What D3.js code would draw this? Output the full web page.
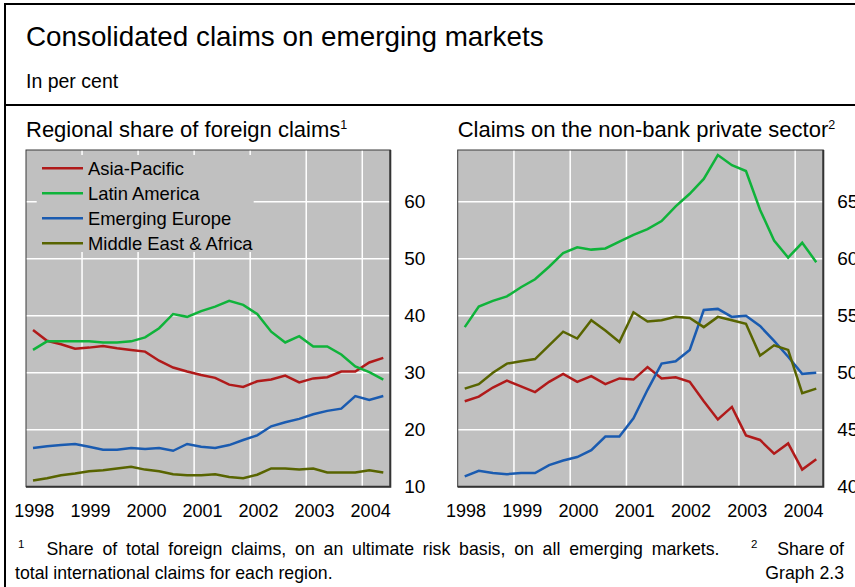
<!DOCTYPE html>
<html>
<head>
<meta charset="utf-8">
<script src="https://cdn.jsdelivr.net/npm/d3@7"></script>
<style>
  body { margin: 0; background: #fff; }
  svg { display: block; font-family: "Liberation Sans", Arial, sans-serif; }
  .axis path { display: none; }
  .axis text { fill: #000; font-family: "Liberation Sans", Arial, sans-serif; }
</style>
</head>
<body>
<div id="chart-area"></div>
<script>
// quarterly observations, 1998Q1 - 2004Q2
var quarters = ["1998Q1","1998Q2","1998Q3","1998Q4","1999Q1","1999Q2","1999Q3","1999Q4",
    "2000Q1","2000Q2","2000Q3","2000Q4","2001Q1","2001Q2","2001Q3","2001Q4",
    "2002Q1","2002Q2","2002Q3","2002Q4","2003Q1","2003Q2","2003Q3","2003Q4",
    "2004Q1","2004Q2"];

var regions = ["Asia-Pacific", "Latin America", "Emerging Europe", "Middle East & Africa"];
var regionColours = ["#b01a1a", "#0fb33a", "#1a5bb0", "#586400"];

var years = [1998, 1999, 2000, 2001, 2002, 2003, 2004];
var leftTicks = [10, 20, 30, 40, 50, 60];
var rightTicks = [40, 45, 50, 55, 60, 65];

// Regional share of foreign claims
var asiaShare   = [37.5,35.6,35.0,34.2,34.4,34.7,34.3,34.0,33.7,32.1,30.9,30.2,29.6,29.1,27.9,27.5,28.5,28.8,29.5,28.3,29.0,29.2,30.2,30.2,31.8,32.6];
var latamShare  = [34.0,35.5,35.5,35.5,35.5,35.3,35.3,35.5,36.2,37.8,40.3,39.8,40.8,41.6,42.6,41.9,40.3,37.2,35.3,36.4,34.6,34.6,33.2,31.1,30.1,28.8];
var europeShare = [16.8,17.1,17.3,17.5,17.0,16.5,16.5,16.8,16.6,16.8,16.3,17.5,17.0,16.8,17.3,18.2,19.0,20.6,21.3,21.9,22.7,23.3,23.7,25.9,25.2,25.9];
var meaShare    = [11.1,11.5,12.0,12.3,12.7,12.9,13.2,13.5,13.0,12.7,12.2,12.0,12.0,12.2,11.7,11.5,12.1,13.2,13.2,13.0,13.2,12.5,12.5,12.5,12.9,12.5];

// Claims on the non-bank private sector
var asiaNonBank   = [47.5,47.9,48.7,49.3,48.8,48.3,49.2,49.9,49.2,49.7,49.0,49.5,49.4,50.5,49.5,49.6,49.2,47.5,45.9,47.0,44.5,44.1,42.9,43.8,41.5,42.4];
var latamNonBank  = [54.0,55.8,56.3,56.7,57.5,58.2,59.3,60.5,61.0,60.8,60.9,61.5,62.1,62.6,63.3,64.6,65.7,67.0,69.1,68.2,67.7,64.3,61.6,60.1,61.4,59.7];
var europeNonBank = [40.9,41.4,41.2,41.1,41.2,41.2,41.9,42.3,42.6,43.2,44.4,44.4,46.0,48.5,50.8,51.0,52.0,55.5,55.6,54.9,55.0,54.1,52.8,51.4,49.9,50.0];
var meaNonBank    = [48.6,49.0,50.0,50.8,51.0,51.2,52.4,53.6,53.0,54.6,53.7,52.7,55.3,54.5,54.6,54.9,54.8,54.0,54.9,54.6,54.3,51.5,52.4,52.0,48.2,48.6];

var width = 855, height = 587;
var plotTop = 150, plotBottom = 486.7;

function quarterTime(q) {
    // middle of the quarter
    return +q.slice(0, 4) + (+q.slice(5) - 0.5) / 4;
}

var svg = d3.select("#chart-area").append("svg")
    .attr("width", width)
    .attr("height", height);

// outer frame
svg.append("line").attr("x1", 5).attr("x2", 5).attr("y1", 4).attr("y2", height)
    .attr("stroke", "#000").attr("stroke-width", 2);
svg.append("line").attr("x1", 4).attr("x2", width).attr("y1", 4).attr("y2", 4)
    .attr("stroke", "#000").attr("stroke-width", 2);
svg.append("line").attr("x1", 4).attr("x2", width).attr("y1", 105).attr("y2", 105)
    .attr("stroke", "#000").attr("stroke-width", 2);

svg.append("text")
    .attr("x", 26).attr("y", 46)
    .attr("font-size", "27.8px")
    .text("Consolidated claims on emerging markets");

svg.append("text")
    .attr("x", 26).attr("y", 88)
    .attr("font-size", "19.5px")
    .text("In per cent");

function drawPanel(opts) {
    var x = d3.scaleLinear()
        .domain([1998, 2004.5])
        .range([opts.left, opts.right]);

    var y = d3.scaleLinear()
        .domain([opts.ticks[0], opts.domainTop])
        .range([plotBottom, plotTop]);

    var g = svg.append("g");

    var title = g.append("text")
        .attr("x", opts.left).attr("y", 137)
        .attr("font-size", "22px")
        .text(opts.title);
    title.append("tspan")
        .attr("dy", -8)
        .attr("font-size", "12.5px")
        .text(opts.note);

    g.append("rect")
        .attr("x", opts.left).attr("y", plotTop)
        .attr("width", opts.right - opts.left)
        .attr("height", plotBottom - plotTop)
        .attr("fill", "#c0c0c0");

    // grid
    g.selectAll(".hgrid").data(opts.ticks.slice(1)).enter()
        .append("line")
        .attr("x1", opts.left).attr("x2", opts.right)
        .attr("y1", function(d) { return y(d); })
        .attr("y2", function(d) { return y(d); })
        .attr("stroke", "#fff").attr("stroke-width", 1.5);

    g.selectAll(".vgrid").data(years.slice(1)).enter()
        .append("line")
        .attr("x1", function(d) { return x(d); })
        .attr("x2", function(d) { return x(d); })
        .attr("y1", plotTop).attr("y2", plotBottom)
        .attr("stroke", "#fff").attr("stroke-width", 1.5);

    if (opts.legend) {
        var legend = g.append("g");
        legend.append("rect")
            .attr("x", opts.left + 10.7).attr("y", plotTop + 5)
            .attr("width", 217).attr("height", 97)
            .attr("fill", "#c0c0c0");

        regions.forEach(function(region, i) {
            var row = legend.append("g")
                .attr("transform", "translate(" + (opts.left + 16) + "," + (plotTop + 18.3 + i * 25) + ")");
            row.append("line")
                .attr("x1", 0).attr("x2", 41)
                .attr("stroke", regionColours[i])
                .attr("stroke-width", 2.5);
            row.append("text")
                .attr("x", 46).attr("y", 0)
                .attr("dy", "0.35em")
                .attr("font-size", "18.4px")
                .text(region);
        });
    }

    var line = d3.line()
        .x(function(d) { return x(d.t); })
        .y(function(d) { return y(d.v); });

    opts.series.forEach(function(values, i) {
        var pts = values.map(function(v, j) {
            return { t: quarterTime(quarters[j]), v: v };
        });
        g.append("path")
            .datum(pts)
            .attr("fill", "none")
            .attr("stroke", regionColours[i])
            .attr("stroke-width", 2.5)
            .attr("d", line);
    });

    // frame of plot
    g.append("rect")
        .attr("x", opts.left).attr("y", plotTop)
        .attr("width", opts.right - opts.left)
        .attr("height", plotBottom - plotTop)
        .attr("fill", "none")
        .attr("stroke", "#3a3a3a").attr("stroke-width", 1);
    g.append("path")
        .attr("d", "M" + opts.left + "," + plotBottom + "H" + opts.right + "V" + plotTop)
        .attr("fill", "none")
        .attr("stroke", "#333").attr("stroke-width", 2);

    var yAxisCall = d3.axisRight(y)
        .tickValues(opts.ticks)
        .tickSize(0)
        .tickPadding(14);
    g.append("g")
        .attr("class", "axis")
        .attr("transform", "translate(" + opts.right + ",0)")
        .call(yAxisCall)
        .selectAll("text")
        .attr("font-size", "19px");

    var xAxisCall = d3.axisBottom(x)
        .tickValues(years.map(function(d) { return d + 0.14; }))
        .tickFormat(function(d) { return Math.floor(d); })
        .tickSize(0)
        .tickPadding(18);
    g.append("g")
        .attr("class", "axis")
        .attr("transform", "translate(0," + plotBottom + ")")
        .call(xAxisCall)
        .selectAll("text")
        .attr("font-size", "18px");
}

drawPanel({
    left: 26, right: 390.3,
    ticks: leftTicks, domainTop: 69.07,
    title: "Regional share of foreign claims", note: "1",
    legend: true,
    series: [asiaShare, latamShare, europeShare, meaShare]
});

drawPanel({
    left: 457.7, right: 823.3,
    ticks: rightTicks, domainTop: 69.54,
    title: "Claims on the non-bank private sector", note: "2",
    legend: false,
    series: [asiaNonBank, latamNonBank, europeNonBank, meaNonBank]
});

// footnotes (justified first line)
svg.append("text")
    .attr("x", 18).attr("y", 548)
    .attr("font-size", "11.5px")
    .text("1");
svg.append("text")
    .attr("x", 46.5).attr("y", 555)
    .attr("font-size", "17.7px")
    .attr("word-spacing", "3.9px")
    .text("Share of total foreign claims, on an ultimate risk basis, on all emerging markets.");
svg.append("text")
    .attr("x", 751).attr("y", 548)
    .attr("font-size", "11.5px")
    .text("2");
svg.append("text")
    .attr("x", 844).attr("y", 555)
    .attr("text-anchor", "end")
    .attr("font-size", "17.7px")
    .text("Share of");

svg.append("text")
    .attr("x", 15).attr("y", 579)
    .attr("font-size", "17.7px")
    .text("total international claims for each region.");

svg.append("text")
    .attr("x", 844).attr("y", 579)
    .attr("text-anchor", "end")
    .attr("font-size", "17.7px")
    .text("Graph 2.3");
</script>
</body>
</html>
